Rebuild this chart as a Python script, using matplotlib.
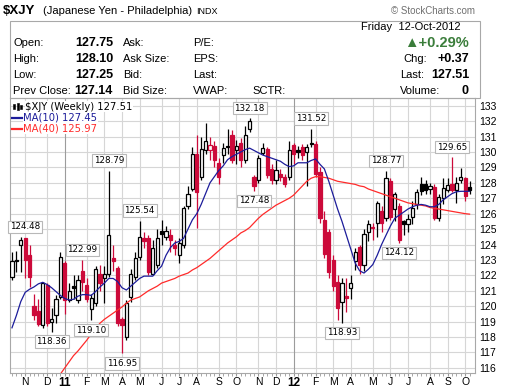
import numpy as np
import matplotlib.pyplot as plt
from matplotlib.patches import Rectangle
from matplotlib.lines import Line2D

# weekly bars, first Monday 11-Oct-2010, last 08-Oct-2012
first_week = np.datetime64('2010-10-11')

opens = [121.9, 123.0, 124.0, 124.4, 123.3, 120.0, 119.7, 118.8, 121.4, 118.95,
         119.4, 120.6, 122.8, 120.4, 121.3, 120.4, 122.3, 121.4, 119.8, 120.2,
         122.1, 121.8, 122.1, 123.1, 122.5, 119.2, 118.0, 120.6, 121.9, 123.2,
         124.4, 124.4, 122.1, 122.7, 124.9, 124.5, 124.6, 124.0, 123.3, 124.0,
         126.5, 127.6, 129.9, 128.4, 130.1, 130.1, 130.4, 129.3, 129.8, 130.35,
         131.1, 130.1, 130.6, 129.5, 131.5, 128.4, 128.2, 129.95, 130.2, 128.9,
         128.2, 128.6, 128.4, 128.4, 130.45, 130.1, 130.3, 130.0, 130.6, 130.5,
         128.7, 125.6, 124.8, 123.0, 121.6, 120.3, 120.65, 121.2, 122.9, 123.85,
         122.7, 124.8, 125.15, 125.4, 126.2, 125.7, 128.1, 126.3, 126.5, 125.5,
         125.35, 125.8, 126.6, 127.95, 127.95, 127.6, 127.7, 125.7, 127.0, 127.55,
         127.9, 127.55, 128.2, 128.3, 127.75]
highs = [123.5, 123.6, 124.48, 124.45, 124.0, 120.8, 120.5, 121.6, 121.5, 119.9,
         120.7, 123.5, 122.9, 121.5, 122.0, 122.0, 122.99, 121.8, 120.8, 122.6,
         122.7, 122.6, 128.79, 124.0, 122.6, 119.3, 120.4, 122.4, 123.5, 125.54,
         124.8, 124.6, 124.3, 125.0, 125.6, 125.2, 125.0, 124.3, 124.4, 126.5,
         127.8, 130.3, 131.1, 131.0, 131.9, 131.0, 130.7, 129.6, 130.6, 131.5,
         131.4, 130.8, 130.9, 131.7, 132.18, 128.5, 129.8, 130.6, 130.3, 129.2,
         129.5, 128.9, 128.6, 130.7, 130.6, 130.4, 130.5, 130.5, 131.52, 130.7,
         129.0, 126.2, 125.0, 123.3, 122.0, 121.8, 121.8, 122.0, 123.8, 124.0,
         125.0, 125.6, 125.4, 126.8, 126.5, 128.77, 128.3, 127.4, 126.7, 125.6,
         126.0, 126.8, 127.6, 128.4, 128.2, 128.0, 127.9, 127.3, 128.3, 128.3,
         129.65, 128.4, 128.95, 128.4, 128.10]
lows = [121.7, 122.2, 122.2, 121.8, 121.26, 119.1, 118.7, 118.6, 118.7, 118.36,
        118.9, 120.5, 119.5, 120.3, 120.5, 120.2, 121.0, 120.3, 119.10, 120.0,
        121.0, 120.2, 121.9, 122.3, 118.7, 116.95, 117.8, 120.3, 121.7, 123.0,
        123.8, 122.0, 122.0, 122.5, 124.0, 124.3, 123.5, 123.3, 122.8, 123.8,
        126.3, 127.5, 125.1, 128.2, 129.9, 129.5, 129.0, 127.9, 129.3, 129.9,
        129.3, 129.2, 129.0, 129.3, 131.3, 127.48, 128.0, 129.8, 128.3, 127.9,
        127.9, 128.1, 127.7, 128.2, 129.2, 129.6, 129.5, 127.8, 130.3, 128.4,
        125.4, 123.1, 121.8, 121.0, 119.1, 118.93, 119.6, 120.5, 122.35, 122.1,
        122.3, 124.2, 124.3, 124.5, 124.8, 125.5, 125.6, 125.5, 124.12, 124.6,
        124.8, 125.3, 126.3, 127.2, 127.3, 127.3, 125.6, 125.5, 126.6, 127.4,
        127.4, 126.7, 128.0, 126.8, 127.25]
closes = [122.9, 122.95, 124.3, 123.0, 121.9, 119.4, 118.85, 121.5, 118.9, 119.2,
          120.5, 123.2, 120.4, 121.0, 121.15, 121.7, 121.6, 120.5, 120.55, 122.4,
          121.5, 122.1, 124.6, 122.95, 118.9, 118.8, 120.2, 122.1, 123.1, 124.5,
          124.2, 122.2, 123.8, 124.4, 124.7, 124.9, 124.3, 123.8, 124.1, 126.4,
          127.3, 129.9, 127.4, 130.2, 130.7, 130.45, 129.5, 128.4, 130.25, 130.3,
          129.5, 130.4, 129.5, 131.1, 132.0, 127.8, 129.6, 130.25, 128.5, 128.2,
          128.85, 128.4, 127.9, 130.1, 129.9, 130.0, 129.8, 130.3, 130.5, 128.6,
          125.7, 123.4, 122.2, 121.3, 119.9, 121.5, 120.55, 121.5, 123.5, 122.7,
          124.7, 125.3, 125.1, 126.7, 125.4, 128.3, 125.8, 127.3, 124.3, 125.35,
          125.65, 126.35, 127.4, 127.45, 127.55, 127.8, 125.7, 127.1, 127.65, 127.85,
          127.55, 128.0, 128.35, 127.14, 127.51]

ma10 = [118.6, 119.4, 120.3, 120.9, 121.1, 121.25, 121.45, 121.55, 121.4, 121.2,
        120.95, 120.7, 120.5, 120.4, 120.45, 120.65, 120.75, 120.75, 120.7, 120.95,
        121.25, 121.5, 121.8, 121.8, 121.6, 121.2, 121.05, 121.3, 121.55, 121.8,
        121.95, 121.95, 121.95, 122.3, 122.6, 123.3, 123.8, 124.1, 124.2, 124.4,
        125.0, 125.6, 126.0, 126.6, 127.3, 128.0, 128.4, 128.8, 129.1, 129.5,
        129.7, 129.85, 130.0, 130.15, 130.25, 130.1, 129.95, 129.8, 129.7, 129.6,
        129.5, 129.4, 129.2, 129.05, 129.1, 129.3, 129.3, 129.3, 129.45, 129.55,
        129.2, 128.9, 128.1, 127.2, 126.3, 125.5, 124.6, 123.7, 122.8, 122.3,
        122.15, 122.4, 122.7, 123.3, 124.0, 124.6, 125.2, 125.7, 125.9, 126.1,
        126.3, 126.45, 126.55, 126.6, 126.55, 126.45, 126.45, 126.6, 126.9, 127.1,
        127.3, 127.42, 127.45, 127.45, 127.45]
nan = float('nan')
ma40 = [nan] * 10 + [
        115.2, 115.6, 116.0, 116.4, 116.8, 117.1, 117.45, 117.8, 118.2, 118.55,
        118.9, 119.15, 119.35, 119.55, 119.75, 119.95, 120.2, 120.4, 120.5, 120.6,
        120.8, 121.0, 121.15, 121.3, 121.5, 121.6, 121.7, 121.8, 121.95, 122.05,
        122.15, 122.35, 122.5, 122.7, 122.9, 123.1, 123.35, 123.6, 123.85, 124.1,
        124.3, 124.5, 124.75, 124.9, 125.1, 125.4, 125.7, 125.95, 126.15, 126.35,
        126.55, 126.7, 126.85, 127.0, 127.2, 127.5, 127.8, 128.1, 128.3, 128.4,
        128.4, 128.35, 128.3, 128.2, 128.1, 128.05, 128.0, 127.95, 127.9, 127.8,
        127.75, 127.6, 127.5, 127.4, 127.3, 127.2, 127.1, 127.0, 126.9, 126.8,
        126.7, 126.65, 126.6, 126.55, 126.5, 126.4, 126.35, 126.3, 126.25, 126.2,
        126.15, 126.1, 126.05, 126.0, 125.97]

# (week, value, above?)
price_labels = [(2, 124.48, True), (9, 118.36, False), (16, 122.99, True),
                (18, 119.10, False), (22, 128.79, True), (25, 116.95, False),
                (29, 125.54, True), (54, 132.18, True), (55, 127.48, False),
                (68, 131.52, True), (75, 118.93, False), (85, 128.77, True),
                (88, 124.12, False), (100, 129.65, True)]

month_letters = 'JFMAMJJASOND'

RED = '#cc0a3a'
W, H = 505, 388
fig = plt.figure(figsize=(W / 100, H / 100), dpi=100)
ax = fig.add_axes([10 / W, 1 - 373 / H, 465 / W, 275 / H])

SANS = ['Liberation Sans', 'DejaVu Sans']


def ftext(x, y, s, **kw):
    kw.setdefault('family', SANS)
    kw.setdefault('va', 'center')
    fig.text(x / W, 1 - y / H, s, **kw)


n = len(opens)
xs = np.arange(n)
dates = first_week + np.arange(n) * np.timedelta64(7, 'D')
months = dates.astype('datetime64[M]').astype(int) % 12
years = dates.astype('datetime64[Y]').astype(int) + 1970
month_idx = [i for i in range(1, n) if months[i] != months[i - 1]]

# grid
for y in range(116, 134):
    ax.axhline(y, color='#d6d6d6', lw=0.8, zorder=1)
for i in month_idx:
    ax.axvline(i, color='#9c9c9c' if months[i] == 0 else '#d6d6d6', lw=0.8, zorder=1)

# candles
for i in range(n):
    o, h, l, c = opens[i], highs[i], lows[i], closes[i]
    col = 'black' if i == 0 or c >= closes[i - 1] else RED
    ax.vlines(i, l, h, color=col, lw=0.9, zorder=3)
    face = 'white' if c > o else col
    ax.add_patch(Rectangle((i - 0.36, min(o, c)), 0.72, max(abs(c - o), 0.06),
                           fc=face, ec=col, lw=0.9, zorder=4))

ax.plot(xs, ma40, color='#ff2a2a', lw=0.9, zorder=5)
ax.plot(xs, ma10, color='#1c1c9a', lw=0.9, zorder=5)

for i, v, above in price_labels:
    dx = 3 if i < 4 else 0
    ax.annotate(f'{v:.2f}', xy=(i, v), xytext=(dx, 7.3 if above else -7.3),
                textcoords='offset points', ha='center', va='center',
                fontsize=6.3, family='DejaVu Sans', zorder=8,
                bbox=dict(boxstyle='square,pad=0.2', fc='white', ec='#b8b8b8', lw=0.8))

ax.set_xlim(-0.45, n + 0.23)
ax.set_ylim(115.67, 133.5)

ax.yaxis.tick_right()
ax.set_yticks(range(116, 134))
ax.set_yticklabels([str(v) for v in range(116, 134)], family=SANS, fontsize=7.5)
ax.tick_params(axis='y', length=0, pad=3)

ax.set_xticks(month_idx)
ax.set_xticklabels([str(years[i])[2:] if months[i] == 0 else month_letters[months[i]]
                    for i in month_idx], family=SANS, fontsize=7.5)
for lab, i in zip(ax.get_xticklabels(), month_idx):
    if months[i] == 0:
        lab.set_fontweight('bold')
        lab.set_fontsize(8.5)
ax.set_xticks(xs, minor=True)
ax.tick_params(axis='x', which='major', length=2, color='#999999', pad=1)
ax.tick_params(axis='x', which='minor', length=2, color='#999999')
for sp in ax.spines.values():
    sp.set_color('#a8a8a8')
    sp.set_linewidth(0.8)

# legend inside the chart
ax.text(0.033, 0.968, r'\$XJY (Weekly) 127.51', transform=ax.transAxes, fontsize=7.2,
        family='DejaVu Sans', va='center', zorder=9,
        bbox=dict(boxstyle='square,pad=0.05', fc='white', ec='none'))
ax.text(0.028, 0.929, 'MA(10) 127.45', transform=ax.transAxes, fontsize=7.2,
        family='DejaVu Sans', color='#1c1c9a', va='center', zorder=9,
        bbox=dict(boxstyle='square,pad=0.05', fc='white', ec='none'))
ax.text(0.028, 0.890, 'MA(40) 125.97', transform=ax.transAxes, fontsize=7.2,
        family='DejaVu Sans', color='#ff2a2a', va='center', zorder=9,
        bbox=dict(boxstyle='square,pad=0.05', fc='white', ec='none'))
fig.add_artist(Line2D([12 / W, 22 / W], [1 - 117.5 / H] * 2, color='#1c1c9a', lw=1.6))
fig.add_artist(Line2D([12 / W, 22 / W], [1 - 128.5 / H] * 2, color='#ff2a2a', lw=1.6))
for bx, by, bh in [(13, 104, 5), (16.5, 103, 7), (20, 104.5, 4)]:
    fig.add_artist(Rectangle((bx / W, 1 - (by + bh) / H), 2 / W, bh / H,
                             fc='black', ec='black', lw=0.4))

# header
ftext(3, 11, r'\$XJY', fontsize=9.5, fontweight='bold')
ftext(43, 11, '(Japanese Yen - Philadelphia)', fontsize=8)
ftext(196, 11.5, 'INDX', fontsize=6.5)
ftext(475, 11, '\u00a9 StockCharts.com', fontsize=7, color='#707070', ha='right')
fig.add_artist(Rectangle((10 / W, 1 - 98 / H), 470 / W, 77 / H, fill=False,
                         ec='#a8a8a8', lw=0.8))

ftext(461, 27, 'Friday  12-Oct-2012', fontsize=8, ha='right')
rows = [43, 59, 75, 91]
for y, a, v, b, c in zip(rows,
                         ['Open:', 'High:', 'Low:', 'Prev Close:'],
                         ['127.75', '128.10', '127.25', '127.14'],
                         ['Ask:', 'Ask Size:', 'Bid:', 'Bid Size:'],
                         ['P/E:', 'EPS:', 'Last:', 'VWAP:']):
    ftext(13, y, a, fontsize=8)
    ftext(113, y, v, fontsize=9, fontweight='bold', ha='right')
    ftext(123, y, b, fontsize=8)
    ftext(193, y, c, fontsize=8)
ftext(252, 91, 'SCTR:', fontsize=8)

ftext(469, 43, '\u25b2+0.29%', fontsize=10.5, fontweight='bold', color='#3a7d3a', ha='right')
ftext(403, 59, 'Chg:', fontsize=8)
ftext(469, 59, '+0.37', fontsize=9, fontweight='bold', ha='right')
ftext(400, 75, 'Last:', fontsize=8)
ftext(469, 75, '127.51', fontsize=9, fontweight='bold', ha='right')
ftext(400, 91, 'Volume:', fontsize=8)
ftext(469, 91, '0', fontsize=9, fontweight='bold', ha='right')

fig.savefig('out.png', dpi=100)
